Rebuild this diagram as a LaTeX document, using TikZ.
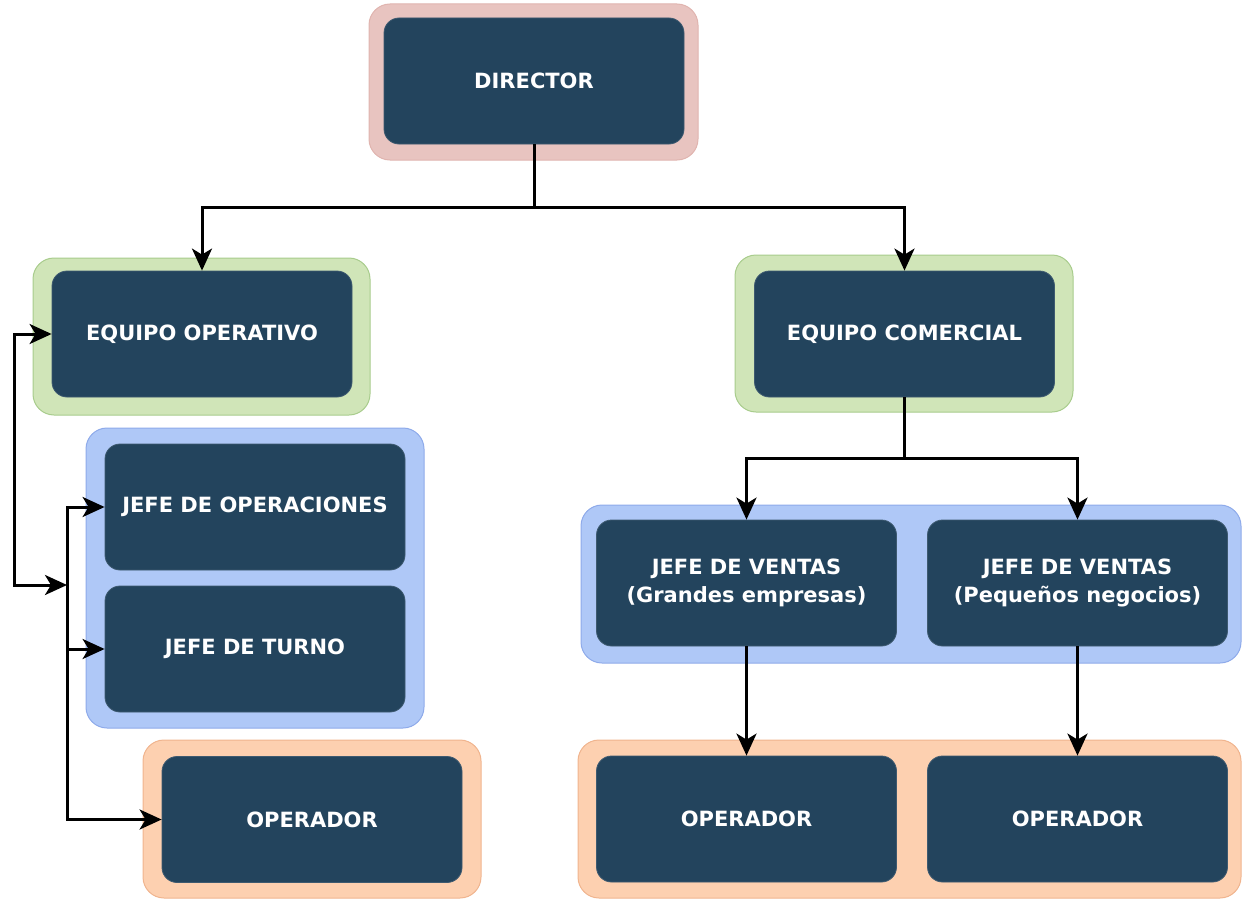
\documentclass[tikz,border=0pt]{standalone}
\usepackage{fontspec}
\setmainfont{DejaVu Sans}
\usetikzlibrary{arrows.meta}
\definecolor{boxfill}{HTML}{23445D}
\definecolor{boxline}{HTML}{3E5A70}
\definecolor{pinkfill}{HTML}{E8C4C0}
\definecolor{pinkline}{HTML}{E0B4AF}
\definecolor{greenfill}{HTML}{D0E5B8}
\definecolor{greenline}{HTML}{A8CC8C}
\definecolor{bluefill}{HTML}{AFC8F7}
\definecolor{blueline}{HTML}{8EAAEA}
\definecolor{orangefill}{HTML}{FDD0B0}
\definecolor{orangeline}{HTML}{F0B48E}
\begin{document}
\begin{tikzpicture}[x=1pt,y=-1pt,
  box/.style={draw=boxline, line width=0.8pt, fill=boxfill, rounded corners=15pt,
    minimum width=300pt, minimum height=126pt, inner sep=0pt,
    text=white, align=center,
    font=\fontsize{21}{28}\selectfont\bfseries},
  group/.style={rounded corners=21pt, line width=1pt, inner sep=0pt},
  pinkgroup/.style={group, draw=pinkline, fill=pinkfill},
  greengroup/.style={group, draw=greenline, fill=greenfill},
  bluegroup/.style={group, draw=blueline, fill=bluefill},
  orangegroup/.style={group, draw=orangeline, fill=orangefill},
  link/.style={draw=black, line width=3pt},
  arr/.style={link, -{Stealth[length=22pt,width=20pt,inset=6pt]}},
  biarr/.style={link, {Stealth[length=22pt,width=20pt,inset=6pt]}-{Stealth[length=22pt,width=20pt,inset=6pt]}}
]
\useasboundingbox (0,0) rectangle (1242,899);

% background groups
\node[pinkgroup, minimum width=329pt, minimum height=156pt] (gdir) at (533.5,82) {};
\node[greengroup, minimum width=337pt, minimum height=157pt] (geo) at (201.5,336.5) {};
\node[bluegroup, minimum width=338pt, minimum height=300pt] (gjo) at (255,578) {};
\node[orangegroup, minimum width=338pt, minimum height=158pt] (gop1) at (312,819) {};
\node[greengroup, minimum width=338pt, minimum height=157pt] (gec) at (904,333.5) {};
\node[bluegroup, minimum width=660pt, minimum height=158pt] (gjv) at (911,584) {};
\node[orangegroup, minimum width=663pt, minimum height=158pt] (gop2) at (909.5,819) {};

% positions
\node[box] (dir) at (534,81) {DIRECTOR};
\node[box] (eo) at (202,334) {EQUIPO OPERATIVO};
\node[box] (jo) at (255,507) {JEFE DE OPERACIONES};
\node[box] (jt) at (255,649) {JEFE DE TURNO};
\node[box] (op1) at (312,819.5) {OPERADOR};
\node[box] (ec) at (904.5,334) {EQUIPO COMERCIAL};
\node[box] (jv1) at (746.5,583) {JEFE DE VENTAS\\(Grandes empresas)};
\node[box] (jv2) at (1077.5,583) {JEFE DE VENTAS\\(Pequeños negocios)};
\node[box] (op2) at (746.5,819) {OPERADOR};
\node[box] (op3) at (1077.5,819) {OPERADOR};

% junction points
\coordinate (split1) at (534,207);
\coordinate (split2) at (904.5,458);
\coordinate (lft) at (14,585);
\coordinate (bus) at (67,585);

% director to teams
\draw[link] (dir.south) -- (split1);
\draw[arr] (split1) -| (eo.north);
\draw[arr] (split1) -| (ec.north);

% commercial branch
\draw[link] (ec.south) -- (split2);
\draw[arr] (split2) -| (jv1.north);
\draw[arr] (split2) -| (jv2.north);
\draw[arr] (jv1.south) -- (op2.north);
\draw[arr] (jv2.south) -- (op3.north);

% operational branch
\draw[biarr] (eo.west) -| (lft) -- (bus);
\draw[arr] (bus) |- (jo.west);
\draw[arr] (bus) |- (jt.west);
\draw[arr] (bus) |- (op1.west);
\end{tikzpicture}
\end{document}
